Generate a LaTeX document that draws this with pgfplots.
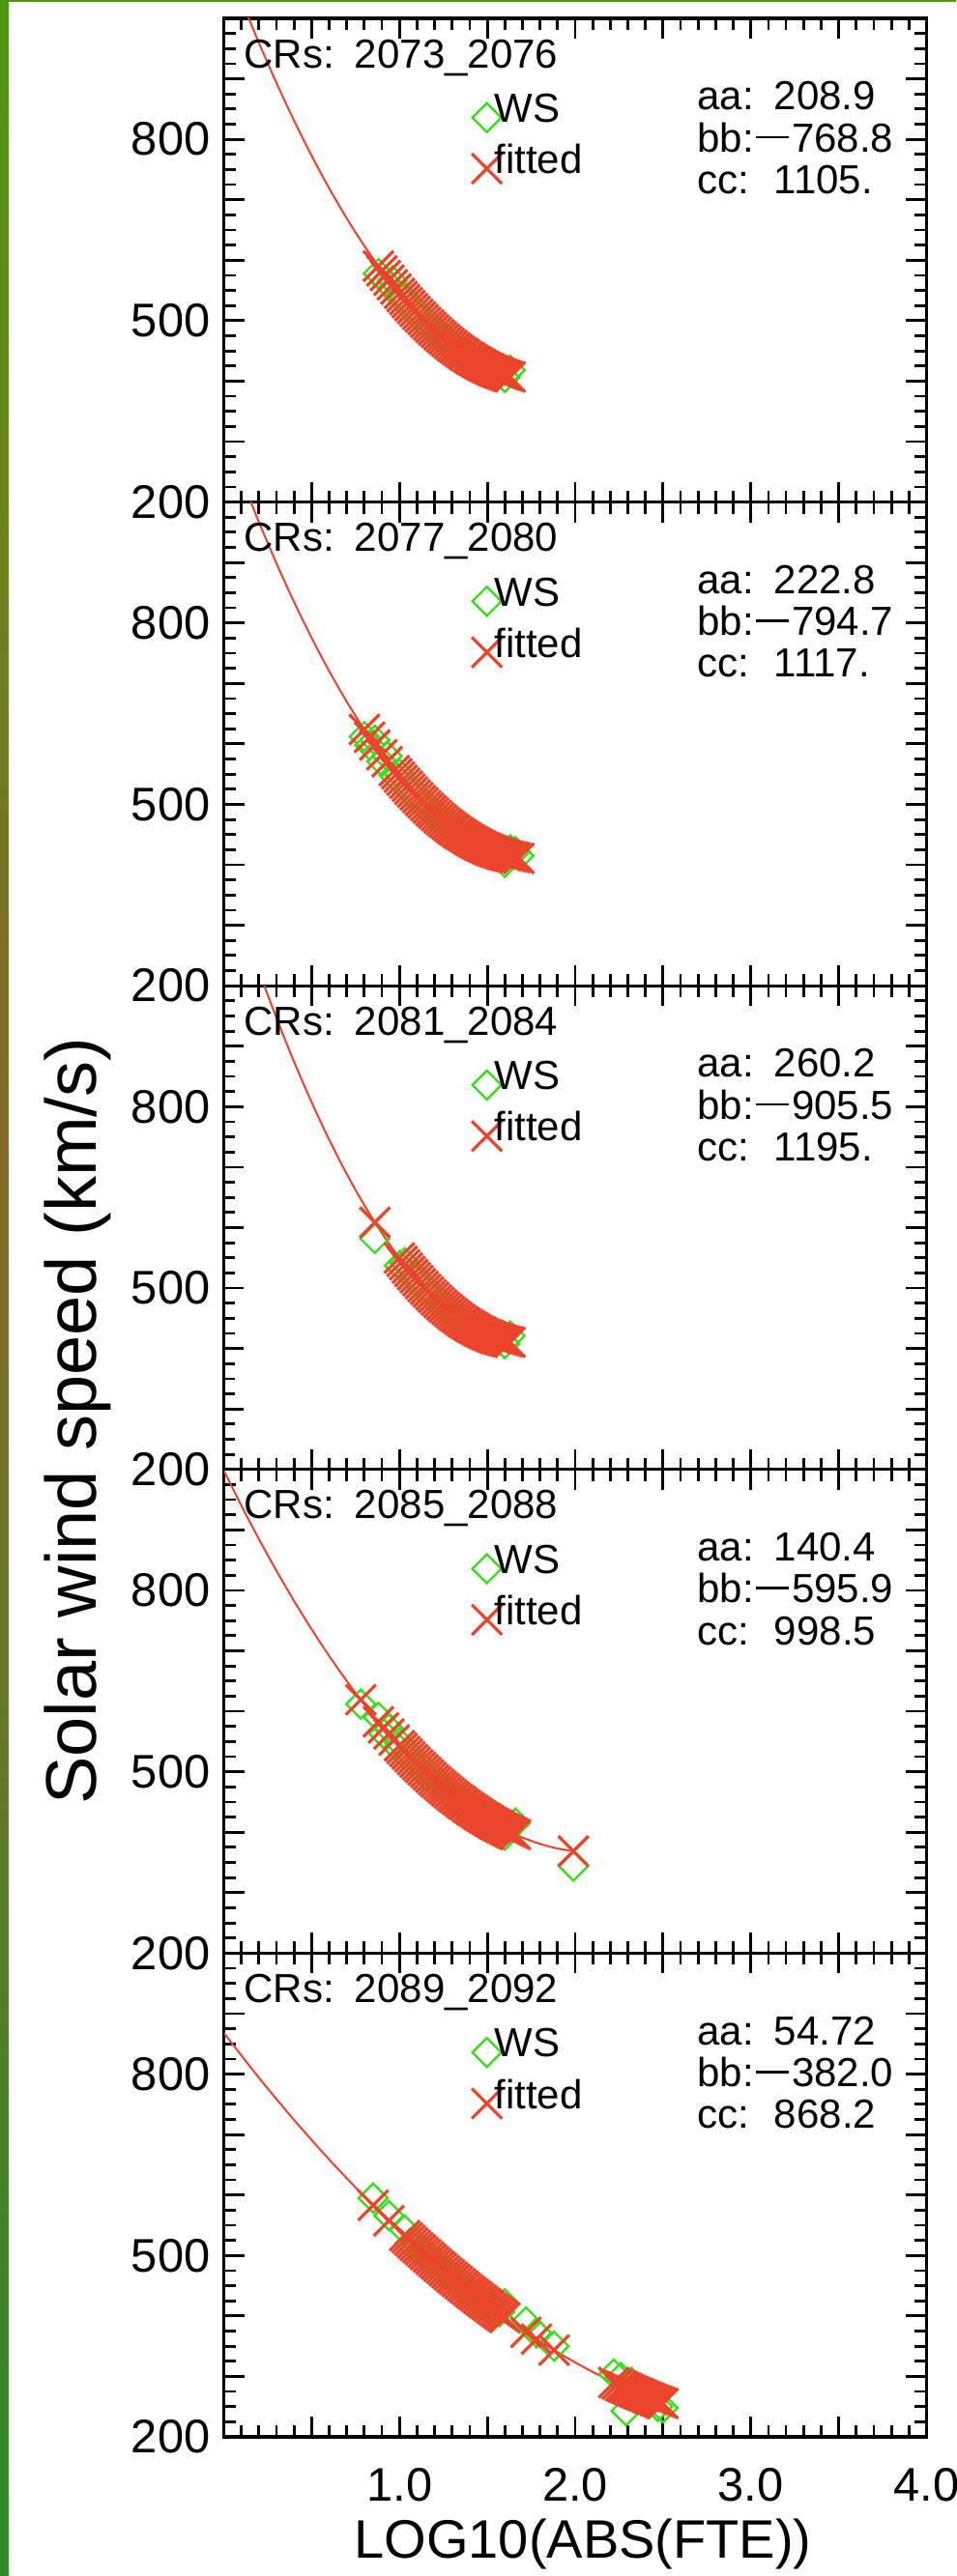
\documentclass[border=0pt]{standalone}
\usepackage{fontspec}
\setmainfont{Liberation Sans}
\usepackage{pgfplots}
\pgfplotsset{compat=1.18}
\definecolor{wsgreen}{RGB}{60,220,30}
\definecolor{fitred}{RGB}{236,68,42}
\definecolor{bgreenA}{RGB}{78,152,16}
\definecolor{bbrown}{RGB}{132,106,38}
\definecolor{bolive}{RGB}{122,150,30}
\definecolor{bgreenB}{RGB}{45,140,40}
\newcommand\annfont{\fontsize{10.5}{12}\selectfont}
\newcommand\minusdash{\kern0.05em\rule[0.33em]{0.8em}{0.065em}\kern0.08em}
\newcommand\panelnotes[4]{%
  \node[anchor=base west, inner sep=0pt, font=\annfont] at (rel axis cs:0.028,0.898) {CRs:\hspace{0.5em}#1};
  \node[anchor=base west, inner sep=0pt, font=\annfont] at (rel axis cs:0.673,0.811) {\makebox[1.89em][l]{aa:}#2};
  \node[anchor=base west, inner sep=0pt, font=\annfont] at (rel axis cs:0.673,0.724) {bb:\minusdash#3};
  \node[anchor=base west, inner sep=0pt, font=\annfont] at (rel axis cs:0.673,0.638) {\makebox[1.89em][l]{cc:}#4};
}
\pgfplotsset{
  panel/.style={
    scale only axis, width=181.75pt, height=125.15pt,
    xmin=0, xmax=4, ymin=200, ymax=1000,
    axis line style={line width=0.8pt},
    tick align=inside,
    xtick={0,0.5,1,1.5,2,2.5,3,3.5,4},
    ytick={200,300,400,500,600,700,800,900,1000},
    yticklabels={200,,,500,,,800,,},
    xticklabels={},
    minor x tick num=4, minor y tick num=3,
    major tick length=5.25pt, minor tick length=3pt,
    tick style={black, line width=0.7pt},
    tick label style={font=\fontsize{12.2}{14}\selectfont},
    /pgf/number format/assume math mode=true,
    legend style={at={(0.353,0.844)}, anchor=north west, draw=none, fill=none,
      inner sep=0pt, outer sep=0pt, row sep=3.15pt, column sep=-1.9pt,
      font=\annfont, nodes={inner sep=0pt, outer sep=0pt}},
    legend cell align=left,
    legend image code/.code={\draw[##1] plot coordinates {(0pt,-1.75pt)};},
  },
  ws/.style={only marks, color=wsgreen, mark=square, mark size=2.65pt, mark options={rotate=45, line width=0.6pt}},
  fit/.style={only marks, color=fitred, mark=x, mark size=5.5pt, mark options={line width=0.8pt}},
  curve/.style={color=fitred, line width=0.5pt, smooth, no markers, forget plot},
}
\begin{document}
\begin{tikzpicture}
\useasboundingbox (0,0) rectangle (247.25pt,666.5pt);
\fill[white] (0,0) rectangle (247.25pt,666.5pt);
\shade[top color=bgreenA, bottom color=bbrown] (0,370pt) rectangle (2.2pt,666.5pt);
\shade[top color=bbrown, middle color=bolive, bottom color=bgreenB] (0,0) rectangle (2.2pt,370pt);
\fill[bgreenA] (0,665.9pt) rectangle (247.25pt,666.5pt);

% Panel 1
\begin{axis}[panel, at={(57.875pt,536.6pt)}, anchor=south west]
\addplot[curve] coordinates {(0.1,1030.2)(0.2,959.6)(0.3,893.2)(0.4,830.9)(0.5,772.8)(0.6,718.9)(0.7,669.2)(0.8,623.7)(0.9,582.3)(1.0,545.1)(1.1,512.1)(1.2,483.3)(1.3,458.6)(1.4,438.1)(1.5,421.8)(1.6,409.7)(1.63,406.9)};
\addplot[ws] coordinates {(0.88,578)(0.92,565)(0.96,566)(1.00,540)(1.03,538)(1.06,520)(1.09,519)(1.12,502)(1.15,501)(1.18,485)(1.21,484)(1.24,469)(1.27,469)(1.30,455)(1.33,455)(1.36,442)(1.39,443)(1.42,431)(1.45,432)(1.48,421)(1.51,423)(1.54,413)(1.57,415)(1.60,406)(1.63,418)};
\addplot[fit] coordinates {(0.88,590.2)(0.90,582.3)(0.92,574.5)(0.94,567.0)(0.96,559.5)(0.98,552.3)(1.00,545.1)(1.015,539.9)(1.03,534.8)(1.045,529.8)(1.06,524.8)(1.075,520.0)(1.09,515.2)(1.105,510.6)(1.12,506.0)(1.135,501.5)(1.15,497.1)(1.165,492.9)(1.18,488.7)(1.195,484.6)(1.21,480.6)(1.225,476.7)(1.24,472.9)(1.255,469.2)(1.27,465.6)(1.285,462.1)(1.30,458.6)(1.315,455.3)(1.33,452.0)(1.345,448.9)(1.36,445.8)(1.375,442.9)(1.39,440.0)(1.405,437.2)(1.42,434.5)(1.435,432.0)(1.45,429.5)(1.465,427.1)(1.48,424.7)(1.495,422.5)(1.51,420.4)(1.525,418.4)(1.54,416.5)(1.555,414.7)(1.57,412.9)(1.585,411.3)(1.60,409.7)(1.615,408.3)(1.63,406.9)};
\legend{WS,fitted}
\panelnotes{2073\_2076}{208.9}{768.8}{1105.}
\end{axis}

% Panel 2
\begin{axis}[panel, at={(57.875pt,411.45pt)}, anchor=south west]
\addplot[curve] coordinates {(0.1,1039.8)(0.2,967.0)(0.3,898.6)(0.4,834.8)(0.5,775.4)(0.6,720.4)(0.7,669.9)(0.8,623.8)(0.9,582.2)(1.0,545.1)(1.1,512.4)(1.2,484.2)(1.3,460.4)(1.4,441.1)(1.5,426.3)(1.6,415.8)(1.68,410.7)};
\addplot[ws] coordinates {(0.80,612)(0.83,598)(0.86,606)(0.90,571)(0.93,580)(0.97,548)(1.00,550)(1.03,530)(1.06,529)(1.09,511)(1.12,510)(1.15,493)(1.18,493)(1.21,477)(1.24,478)(1.27,463)(1.30,464)(1.33,450)(1.36,452)(1.39,439)(1.42,441)(1.45,429)(1.48,432)(1.51,421)(1.54,425)(1.57,413)(1.60,404)(1.63,425)(1.66,422)(1.68,415)};
\addplot[fit] coordinates {(0.80,623.8)(0.83,610.9)(0.86,598.3)(0.90,582.2)(0.93,570.6)(0.97,555.8)(0.985,550.5)(1.00,545.1)(1.015,540.0)(1.03,534.8)(1.045,529.9)(1.06,525.0)(1.075,520.3)(1.09,515.5)(1.105,511.0)(1.12,506.4)(1.135,502.1)(1.15,497.7)(1.165,493.6)(1.18,489.5)(1.195,485.6)(1.21,481.6)(1.225,477.9)(1.24,474.2)(1.255,470.7)(1.27,467.1)(1.285,463.8)(1.30,460.4)(1.315,457.3)(1.33,454.2)(1.345,451.3)(1.36,448.3)(1.375,445.6)(1.39,442.8)(1.405,440.3)(1.42,437.8)(1.435,435.5)(1.45,433.1)(1.465,431.0)(1.48,428.9)(1.495,427.0)(1.51,425.0)(1.525,423.3)(1.54,421.6)(1.555,420.1)(1.57,418.5)(1.585,417.2)(1.60,415.8)(1.615,414.7)(1.63,413.6)(1.645,412.7)(1.66,411.8)(1.68,410.7)};
\legend{WS,fitted}
\panelnotes{2077\_2080}{222.8}{794.7}{1117.}
\end{axis}

% Panel 3
\begin{axis}[panel, at={(57.875pt,286.3pt)}, anchor=south west,
  ylabel={Solar wind speed (km/s)},
  ylabel style={at={(axis description cs:-0.181,0.10)}, anchor=base, font=\fontsize{18.5}{21}\selectfont}]
\addplot[curve] coordinates {(0.1,1107.1)(0.2,1024.3)(0.3,946.8)(0.4,874.4)(0.5,807.3)(0.6,745.4)(0.7,688.6)(0.8,637.1)(0.9,590.8)(1.0,549.7)(1.1,513.8)(1.2,483.1)(1.3,457.6)(1.4,437.3)(1.5,422.2)(1.6,412.3)(1.63,410.4)};
\addplot[ws] coordinates {(0.86,582)(1.00,537)(1.03,542)(1.06,523)(1.09,521)(1.12,503)(1.15,502)(1.18,485)(1.21,484)(1.24,468)(1.27,468)(1.30,453)(1.33,455)(1.36,440)(1.39,443)(1.42,429)(1.45,433)(1.48,420)(1.51,425)(1.54,413)(1.57,418)(1.60,408)(1.63,421)};
\addplot[fit] coordinates {(0.86,608.7)(1.00,549.7)(1.015,544.1)(1.03,538.4)(1.045,533.0)(1.06,527.5)(1.075,522.3)(1.09,517.1)(1.105,512.2)(1.12,507.2)(1.135,502.5)(1.15,497.8)(1.165,493.3)(1.18,488.8)(1.195,484.6)(1.21,480.3)(1.225,476.3)(1.24,472.3)(1.255,468.5)(1.27,464.7)(1.285,461.2)(1.30,457.6)(1.315,454.3)(1.33,451.0)(1.345,447.9)(1.36,444.8)(1.375,442.0)(1.39,439.1)(1.405,436.5)(1.42,433.9)(1.435,431.5)(1.45,429.1)(1.465,427.0)(1.48,424.8)(1.495,422.9)(1.51,421.0)(1.525,419.3)(1.54,417.6)(1.555,416.2)(1.57,414.7)(1.585,413.5)(1.60,412.3)(1.615,411.4)(1.63,410.4)};
\legend{WS,fitted}
\panelnotes{2081\_2084}{260.2}{905.5}{1195.}
\end{axis}

% Panel 4
\begin{axis}[panel, at={(57.875pt,161.15pt)}, anchor=south west]
\addplot[curve] coordinates {(0,998.5)(0.1,940.3)(0.2,884.9)(0.3,832.4)(0.4,782.6)(0.5,735.7)(0.6,691.5)(0.7,650.2)(0.8,611.6)(0.9,575.9)(1.0,543.0)(1.1,512.9)(1.2,485.6)(1.3,461.1)(1.4,439.4)(1.5,420.6)(1.6,404.5)(1.7,391.2)(1.8,380.8)(1.9,373.1)(1.99,368.7)};
\addplot[ws] coordinates {(0.78,612)(0.88,590)(0.91,563)(0.94,571)(0.97,546)(1.00,548)(1.03,529)(1.06,529)(1.09,511)(1.12,512)(1.15,494)(1.18,495)(1.21,478)(1.24,480)(1.27,464)(1.30,465)(1.33,450)(1.36,452)(1.39,437)(1.42,439)(1.45,425)(1.48,428)(1.51,414)(1.54,418)(1.57,405)(1.60,395)(1.63,408)(1.66,415)(1.99,344)};
\addplot[fit] coordinates {(0.78,619.1)(0.88,582.8)(0.91,572.5)(0.94,562.4)(0.97,552.6)(1.00,543.0)(1.015,538.4)(1.03,533.7)(1.045,529.2)(1.06,524.6)(1.075,520.2)(1.09,515.8)(1.105,511.5)(1.12,507.2)(1.135,503.1)(1.15,498.9)(1.165,494.9)(1.18,490.8)(1.195,486.9)(1.21,483.0)(1.225,479.3)(1.24,475.5)(1.255,471.9)(1.27,468.2)(1.285,464.7)(1.30,461.1)(1.315,457.7)(1.33,454.3)(1.345,451.1)(1.36,447.8)(1.375,444.7)(1.39,441.5)(1.405,438.5)(1.42,435.4)(1.435,432.5)(1.45,429.6)(1.465,426.9)(1.48,424.1)(1.495,421.5)(1.51,418.8)(1.525,416.3)(1.54,413.8)(1.555,411.4)(1.57,409.0)(1.585,406.8)(1.60,404.5)(1.615,402.4)(1.63,400.2)(1.645,398.2)(1.66,396.2)(1.99,368.7)};
\legend{WS,fitted}
\panelnotes{2085\_2088}{140.4}{595.9}{998.5}
\end{axis}

% Panel 5
\begin{axis}[panel, at={(57.875pt,36.0pt)}, anchor=south west,
  xticklabels={,,1.0,,2.0,,3.0,,4.0},
  xticklabel style={yshift=-4.5pt},
  xlabel={LOG10(ABS(FTE))},
  xlabel style={at={(axis description cs:0.511,-0.222)}, anchor=center, font=\fontsize{14}{16}\selectfont}]
\addplot[curve] coordinates {(0,868.2)(0.2,794.0)(0.4,724.2)(0.6,658.7)(0.8,597.6)(1.0,540.9)(1.2,488.6)(1.4,440.7)(1.6,397.1)(1.8,357.9)(2.0,323.1)(2.2,292.6)(2.4,266.6)(2.5,255.2)};
\addplot[ws] coordinates {(0.85,595)(0.94,566)(1.03,542)(1.06,520)(1.09,521)(1.12,505)(1.15,505)(1.18,489)(1.21,490)(1.24,474)(1.27,475)(1.30,460)(1.33,461)(1.36,445)(1.39,447)(1.42,432)(1.45,433)(1.48,418)(1.51,420)(1.54,405)(1.57,407)(1.60,420)(1.72,390)(1.78,372)(1.88,350)(2.22,304)(2.26,298)(2.29,243)(2.32,290)(2.35,262)(2.38,278)(2.41,255)(2.44,270)(2.47,250)(2.50,248)};
\addplot[fit] coordinates {(0.85,583.0)(0.94,557.5)(1.03,532.8)(1.045,528.8)(1.06,524.8)(1.075,520.8)(1.09,516.8)(1.105,512.9)(1.12,509.0)(1.135,505.2)(1.15,501.3)(1.165,497.5)(1.18,493.6)(1.195,489.9)(1.21,486.1)(1.225,482.4)(1.24,478.7)(1.255,475.0)(1.27,471.3)(1.285,467.7)(1.30,464.1)(1.315,460.5)(1.33,456.9)(1.345,453.4)(1.36,449.9)(1.375,446.4)(1.39,442.9)(1.405,439.5)(1.42,436.1)(1.435,432.8)(1.45,429.4)(1.465,426.1)(1.48,422.7)(1.495,419.5)(1.51,416.2)(1.525,413.0)(1.54,409.7)(1.555,406.5)(1.57,403.3)(1.585,400.2)(1.60,397.1)(1.72,373.0)(1.78,361.6)(1.88,343.4)(2.22,289.8)(2.24,287.1)(2.26,284.4)(2.275,282.4)(2.29,280.4)(2.305,278.5)(2.32,276.5)(2.335,274.6)(2.35,272.7)(2.365,270.9)(2.38,269.0)(2.395,267.2)(2.41,265.4)(2.425,263.7)(2.44,261.9)(2.455,260.2)(2.47,258.5)(2.485,256.9)(2.50,255.2)};
\legend{WS,fitted}
\panelnotes{2089\_2092}{54.72}{382.0}{868.2}
\end{axis}
\end{tikzpicture}
\end{document}
